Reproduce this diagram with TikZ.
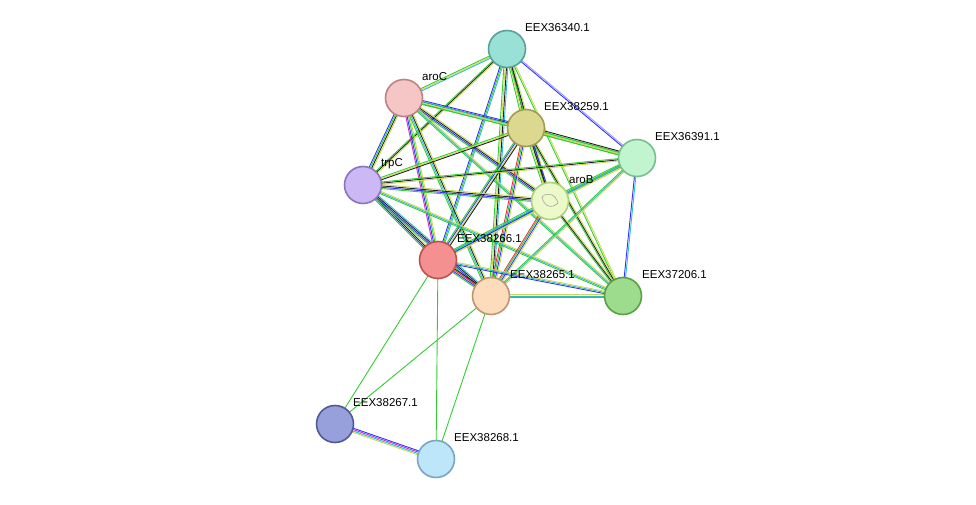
\documentclass[tikz,border=0pt]{standalone}
\usepackage{fontspec}
\setmainfont{Liberation Sans}
\usetikzlibrary{calc}
\definecolor{eg}{HTML}{33CC33}
\definecolor{eb}{HTML}{3333FF}
\definecolor{ey}{HTML}{C8DC50}
\definecolor{ec}{HTML}{33BBCC}
\definecolor{ek}{HTML}{222222}
\definecolor{em}{HTML}{CC33CC}
\definecolor{er}{HTML}{EE3333}
\definecolor{ep}{HTML}{9999FF}
\newcommand\medge[3]{\foreach \cc/\oo in {#3}{\draw[\cc,line width=0.9pt] ($(#1)!\oo pt!90:(#2)$) -- ($(#2)!\oo pt!-90:(#1)$);}}
\tikzset{prot/.style={circle,draw,line width=1.6pt,minimum size=37pt,inner sep=0pt},
lab/.style={anchor=west,font=\fontsize{11.5}{13}\selectfont,inner sep=0pt}}
\begin{document}
\begin{tikzpicture}[x=1pt,y=-1pt]
\useasboundingbox (0,0) rectangle (976,505);
\coordinate (A) at (507,49);
\coordinate (C) at (404,98);
\coordinate (Y) at (526,128);
\coordinate (G) at (637,158);
\coordinate (T) at (363,185);
\coordinate (B) at (550,201);
\coordinate (R) at (438,260);
\coordinate (P) at (491,296);
\coordinate (E) at (623,296);
\coordinate (L) at (335,424);
\coordinate (S) at (436,459);
% cluster edges
\medge{A}{C}{eg/-1.2,ey/0,ec/1.2}
\medge{A}{Y}{eg/-2,ey/-0.7,ek/0.7,ec/2}
\medge{A}{G}{eb/-0.7,ep/0.7}
\medge{A}{T}{eg/-1.2,ek/0,ey/1.2}
\medge{A}{B}{eg/-1.2,ek/0,ey/1.2}
\medge{A}{R}{eb/-1.2,eg/0,ec/1.2}
\medge{A}{P}{eg/-2,ey/-0.7,ek/0.7,ec/2}
\medge{A}{E}{eg/-0.7,ey/0.7}
\medge{C}{Y}{eg/-2,ey/-0.7,ek/0.7,eb/2}
\medge{C}{G}{eg/-1.2,ey/0,ec/1.2}
\medge{C}{T}{eb/-2,eg/-0.7,ek/0.7,ey/2}
\medge{C}{B}{eg/-2,eb/-0.7,ek/0.7,ey/2}
\medge{C}{R}{em/-2,eb/-0.7,eg/0.7,ey/2}
\medge{C}{P}{eg/-2,ec/-0.7,ek/0.7,ey/2}
\medge{C}{E}{eg/-1.2,ec/0,ey/1.2}
\medge{Y}{G}{eg/-2,ey/-0.7,eg/0.7,ek/2}
\medge{Y}{T}{eg/-1.2,ey/0,ek/1.2}
\medge{Y}{B}{eg/-2,ey/-0.7,ek/0.7,eb/2}
\medge{Y}{R}{eg/-2,eb/-0.7,ey/0.7,ek/2}
\medge{Y}{P}{er/-2,eg/-0.7,eb/0.7,ey/2}
\medge{Y}{E}{eg/-1.2,ek/0,ey/1.2}
\medge{G}{T}{eg/-1.2,ek/0,ey/1.2}
\medge{G}{B}{eg/-2,ec/-0.7,eb/0.7,ey/2}
\medge{G}{R}{eg/-1.2,ec/0,ey/1.2}
\medge{G}{P}{eg/-1.2,ec/0,ey/1.2}
\medge{G}{E}{eb/-0.7,ec/0.7}
\medge{T}{B}{eg/-2,eb/-0.7,ek/0.7,ey/2}
\medge{T}{R}{eg/-2,eb/-0.7,ek/0.7,ey/2}
\medge{T}{P}{eg/-2,eb/-0.7,ek/0.7,ec/2}
\medge{T}{E}{eg/-1.2,ec/0,ey/1.2}
\medge{B}{R}{eg/-2,ec/-0.7,eb/0.7,ey/2}
\medge{B}{P}{er/-2,eg/-0.7,eb/0.7,ey/2}
\medge{B}{E}{eg/-1.2,ek/0,ey/1.2}
\medge{R}{P}{eg/-2,eb/-0.7,er/0.7,ek/2}
\medge{R}{E}{eb/-1.2,ec/0,ey/1.2}
\medge{P}{E}{eg/-1.2,ec/0,ey/1.2}
% lower edges
\medge{R}{L}{eg/0}
\medge{R}{S}{eg/0}
\medge{P}{L}{eg/0}
\medge{P}{S}{eg/0}
\medge{L}{S}{ey/-2,ec/-0.7,em/0.7,eb/2}
% nodes
\node[prot,fill={rgb,255:red,153;green,224;blue,214},draw={rgb,255:red,90;green,160;blue,150}] (nA) at (A) {};
\node[prot,fill={rgb,255:red,246;green,198;blue,198},draw={rgb,255:red,190;green,130;blue,130}] (nC) at (C) {};
\node[prot,fill={rgb,255:red,220;green,216;blue,144},draw={rgb,255:red,160;green,156;blue,80}] (nY) at (Y) {};
\node[prot,fill={rgb,255:red,192;green,245;blue,208},draw={rgb,255:red,120;green,190;blue,140}] (nG) at (G) {};
\node[prot,fill={rgb,255:red,203;green,184;blue,245},draw={rgb,255:red,140;green,115;blue,190}] (nT) at (T) {};
\node[prot,fill={rgb,255:red,235;green,250;blue,200},draw={rgb,255:red,170;green,210;blue,120}] (nB) at (B) {};
\draw[gray!70,line width=0.6pt] ($(B)+(-8,-4)$) .. controls ($(B)+(-2,-10)$) and ($(B)+(6,-6)$) .. ($(B)+(8,2)$) .. controls ($(B)+(2,8)$) and ($(B)+(-6,6)$) .. ($(B)+(-8,-4)$);
\node[prot,fill={rgb,255:red,245;green,144;blue,144},draw={rgb,255:red,190;green,80;blue,80}] (nR) at (R) {};
\node[prot,fill={rgb,255:red,253;green,220;blue,188},draw={rgb,255:red,190;green,150;blue,110}] (nP) at (P) {};
\node[prot,fill={rgb,255:red,156;green,220;blue,140},draw={rgb,255:red,90;green,160;blue,70}] (nE) at (E) {};
\node[prot,fill={rgb,255:red,152;green,160;blue,220},draw={rgb,255:red,80;green,90;blue,150}] (nL) at (L) {};
\node[prot,fill={rgb,255:red,189;green,230;blue,251},draw={rgb,255:red,120;green,165;blue,195}] (nS) at (S) {};
% labels
\node[lab] (lA) at (525,28) {EEX36340.1};
\node[lab] (lC) at (422,77) {aroC};
\node[lab] (lY) at (544,107) {EEX38259.1};
\node[lab] (lG) at (655,137) {EEX36391.1};
\node[lab] (lT) at (381,164) {trpC};
\node[lab] (lB) at (569,180) {aroB};
\node[lab] (lR) at (457,239) {EEX38266.1};
\node[lab] (lP) at (510,275) {EEX38265.1};
\node[lab] (lE) at (642,275) {EEX37206.1};
\node[lab] (lL) at (353,403) {EEX38267.1};
\node[lab] (lS) at (454,438) {EEX38268.1};
\end{tikzpicture}
\end{document}
